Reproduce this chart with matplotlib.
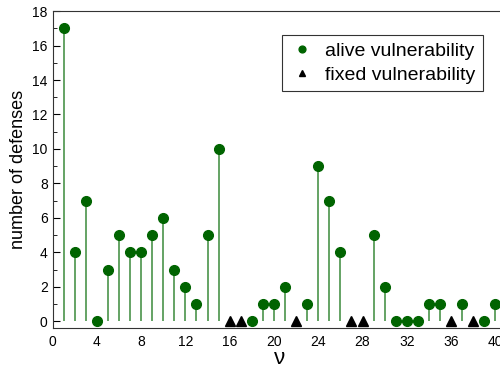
import matplotlib
matplotlib.use('Agg')
import matplotlib.pyplot as plt
from matplotlib.ticker import MultipleLocator

plt.rcParams['font.family'] = ['Liberation Sans', 'DejaVu Sans']

# alive vulnerabilities: position nu and number of defenses
alive_nu = [1, 2, 3, 4, 5, 6, 7, 8, 9, 10, 11, 12, 13, 14, 15,
            18, 19, 20, 21, 23, 24, 25, 26, 29, 30, 31, 32, 33, 34, 35, 37, 39, 40]
alive_def = [17, 4, 7, 0, 3, 5, 4, 4, 5, 6, 3, 2, 1, 5, 10,
             0, 1, 1, 2, 1, 9, 7, 4, 5, 2, 0, 0, 0, 1, 1, 1, 0, 1]
# fixed vulnerabilities
fixed_nu = [16, 17, 22, 27, 28, 36, 38]
fixed_def = [0, 0, 0, 0, 0, 0, 0]

fig = plt.figure(figsize=(5, 3.68), dpi=100)
ax = fig.add_axes([0.105, 0.108, 0.908, 0.862])

ax.vlines(alive_nu, 0, alive_def, color='#3a8a3a', lw=1.1, zorder=1)
ax.plot(alive_nu, alive_def, 'o', color='#006400', ms=7, ls='none',
        label='alive vulnerability', zorder=3)
ax.plot(fixed_nu, fixed_def, '^', color='black', ms=7, ls='none',
        label='fixed vulnerability', zorder=3)

ax.set_xlim(0, 41)
ax.set_ylim(-0.4, 18)
ax.xaxis.set_major_locator(MultipleLocator(4))
ax.yaxis.set_major_locator(MultipleLocator(2))
ax.yaxis.set_minor_locator(MultipleLocator(1))
ax.tick_params(axis='y', which='major', direction='in', length=5, labelsize=10)
ax.tick_params(axis='y', which='minor', direction='in', length=3)
ax.tick_params(axis='x', which='both', length=0, labelsize=10, pad=5)

ax.set_xlabel('ν', fontsize=16, labelpad=-1)
ax.set_ylabel('number of defenses', fontsize=13, labelpad=4)

for s in ax.spines.values():
    s.set_color('#333333')

leg = ax.legend(loc='upper left', bbox_to_anchor=(0.505, 0.925), fontsize=14,
                frameon=True, fancybox=False, edgecolor='black',
                handletextpad=0.5, borderpad=0.4, labelspacing=0.3,
                handlelength=1.3, markerscale=0.7, borderaxespad=0)
leg.get_frame().set_linewidth(0.8)

fig.savefig('out.png', dpi=100)
